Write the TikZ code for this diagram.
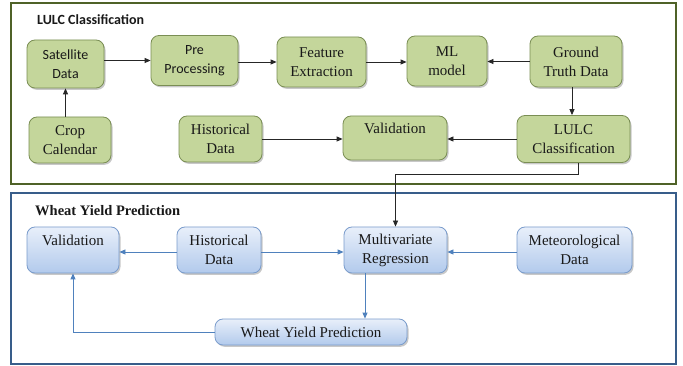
\documentclass[tikz,border=0pt]{standalone}
\usepackage{fontspec}
\setmainfont{Liberation Serif}
\setsansfont{Carlito}
\usetikzlibrary{arrows.meta,shadows,calc}
\definecolor{gfill}{RGB}{196,214,155}
\definecolor{gdraw}{RGB}{122,142,84}
\definecolor{gframe}{RGB}{79,98,40}
\definecolor{bframe}{RGB}{56,93,138}
\definecolor{btop}{RGB}{232,239,250}
\definecolor{bbot}{RGB}{178,202,236}
\definecolor{bdraw}{RGB}{122,156,204}
\definecolor{barrow}{RGB}{79,129,189}
\definecolor{txt}{RGB}{25,25,25}
\begin{document}
\begin{tikzpicture}[x=1pt,y=-1pt,
  nodefont/.style={font=\rmfamily\fontsize{15}{19}\selectfont},
  sansfont/.style={font=\sffamily\fontsize{14}{19}\selectfont},
  gbox/.style={draw=gdraw, fill=gfill, rounded corners=8pt, line width=0.8pt,
    align=center, inner sep=1pt, text=txt, nodefont,
    drop shadow={shadow xshift=1.5pt, shadow yshift=-1.8pt, opacity=0.3, fill=black!70}},
  bbox/.style={draw=bdraw, top color=btop, bottom color=bbot, rounded corners=8pt, line width=0.8pt,
    align=center, inner sep=1pt, text=txt, nodefont,
    drop shadow={shadow xshift=1.5pt, shadow yshift=-1.8pt, opacity=0.3, fill=black!70}},
  sz/.style 2 args={minimum width=#1pt, minimum height=#2pt},
  arr/.style={draw=black!85, line width=0.8pt, -{Triangle[length=6pt,width=5pt]}},
  barr/.style={draw=barrow, line width=0.8pt, -{Triangle[length=6pt,width=5pt]}},
  frame/.style={line width=2.6pt},
  title/.style={anchor=base west, inner sep=0pt, text=txt}
]
\useasboundingbox (0,0) rectangle (683,366);
\fill[white] (0,0) rectangle (683,366);

% frames
\draw[frame, draw=gframe] (11,3) rectangle (676,184);
\draw[frame, draw=bframe] (11,193) rectangle (676,364);

\node[title, font=\sffamily\bfseries\fontsize{14}{16}\selectfont] (t1) at (37,25) {LULC Classification};
\node[title, font=\rmfamily\bfseries\fontsize{14.5}{16}\selectfont] (t2) at (35,216) {Wheat Yield Prediction};

% LULC nodes
\node[gbox, sz={77}{48}, sansfont] (sat) at (65.5,64) {Satellite\\Data};
\node[gbox, sz={87}{50}, sansfont] (pre) at (194.5,60.5) {Pre\\Processing};
\node[gbox, sz={89}{50}] (feat) at (321.5,62) {Feature\\Extraction};
\node[gbox, sz={80}{50}] (ml) at (447,61) {ML\\model};
\node[gbox, sz={92}{51}] (gt) at (576,61.5) {Ground\\Truth Data};
\node[gbox, sz={82}{46}] (crop) at (70,140) {Crop\\Calendar};
\node[gbox, sz={83}{46}] (hist1) at (220.5,139) {Historical\\Data};
\node[gbox, sz={104}{44}] (val1) at (395,138) {Validation\\\phantom{X}};
\node[gbox, sz={113}{47}] (lulc) at (573.5,139) {LULC\\Classification};

% LULC arrows
\draw[arr] (sat.east |- pre.west) -- (pre.west);
\draw[arr] (pre.east |- feat.west) -- (feat.west);
\draw[arr] (feat.east) -- (ml.west |- feat.east);
\draw[arr] (gt.west) -- (ml.east |- gt.west);
\draw[arr] (crop.north -| sat.south) -- (sat.south);
\draw[arr] (gt.south -| lulc.north) ++(-1.5,0) coordinate (gtb) -- (gtb |- lulc.north);
\draw[arr] (hist1.east) -- (val1.west |- hist1.east);
\draw[arr] (lulc.west) -- (val1.east |- lulc.west);

% Wheat nodes
\node[bbox, sz={92}{46}] (val2) at (73,250) {Validation\\\phantom{X}};
\node[bbox, sz={84}{46}] (hist2) at (219,250) {Historical\\Data};
\node[bbox, sz={103}{46}] (mr) at (395.5,250) {Multivariate\\Regression};
\node[bbox, sz={115}{46}] (met) at (574.5,250) {Meteorological\\Data};
\node[bbox, sz={192}{26}] (wyp) at (311,332) {Wheat Yield Prediction};

% connector LULC -> MR
\coordinate (c1) at ($(lulc.south)+(5,0)$);
\draw[arr] (c1) |- (mr.north |- 0,174) coordinate (c2) -- (c2 -| mr.north) -- (mr.north);

% Wheat arrows
\draw[barr] (hist2.west |- 0,252) coordinate (h2w) -- (val2.east |- h2w);
\draw[barr] (hist2.east |- 0,252) coordinate (h2e) -- (mr.west |- h2e);
\draw[barr] (met.west |- 0,252) coordinate (mw) -- (mr.east |- mw);
\coordinate (mrb) at (365,0);
\draw[barr] (mrb |- mr.south) -- (mrb |- wyp.north);
\draw[barr] (wyp.west) -| (val2.south);
\end{tikzpicture}
\end{document}
